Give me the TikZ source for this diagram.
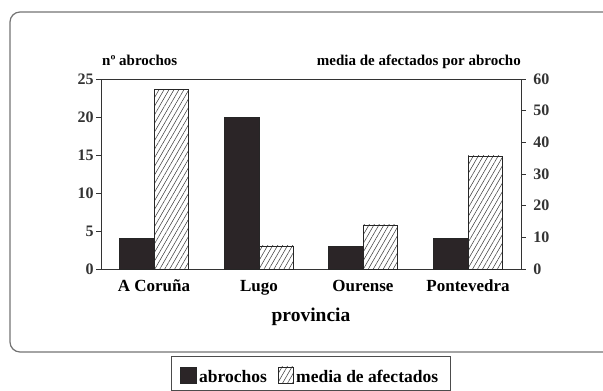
\documentclass[tikz,border=0pt]{standalone}
\usepackage{fontspec}
\setmainfont{Liberation Serif}
\usetikzlibrary{patterns.meta}
\definecolor{barblack}{HTML}{2B2527}
\tikzset{>=latex}
\tikzset{abr/.style={fill=barblack, draw=black!85, line width=.6pt},
  med/.style={draw=black!85, line width=.6pt, pattern color=black!75,
    pattern={Lines[angle=60, distance=4.3pt, line width=.55pt]}},
  txt/.style={font=\bfseries\fontsize{#1}{#1}\selectfont, inner sep=0pt}}
\newcommand{\barPair}[5]{
	\draw[abr](#1-34.5, 122)rectangle(#1, {122+7.6*#2});
	\draw[med](#1, 122)rectangle(#1+34.5, {122+3.1667*#3});
	\node[txt=17, anchor=base](#5) at (#1, 99){#4}
}

\begin{document}
\begin{tikzpicture}[x=1pt, y=1pt]
    \useasboundingbox (0, 0) rectangle (603, 391);
    \draw[black!55, line width=1.2pt, rounded corners=10pt](10, 39)rectangle(625, 379);
    \draw[black!80, line width=.8pt](101, 122)rectangle(521, 312);
    \foreach \v in {0, 5, ..., 25}
        \draw[black!80, line width=.6pt](96, 122+7.6*\v)--(101, 122+7.6*\v)node[txt=16, anchor=east, xshift=-7pt]{\v};
    \foreach \v in {0, 10, ..., 60}
        \draw[black!80, line width=.6pt](521, 122+3.1667*\v)--(526, 122+3.1667*\v)node[txt=16, anchor=west, xshift=7pt]{\v};
    \node[txt=15, anchor=base west](ylab) at (102, 325){nº abrochos};
    \node[txt=15, anchor=base east](yylab) at (521, 325){media de afectados por abrocho};
    \barPair{154}{4}{56.8}{A Coruña}{cor};
    \barPair{259}{20}{7.3}{Lugo}{lug};
    \barPair{363}{3}{13.9}{Ourense}{our};
    \barPair{468}{4}{35.7}{Pontevedra}{pon};
    \node[txt=19.5, anchor=base](xlab) at (311, 69){provincia};
    % leyenda
    \draw[black!70, line width=.8pt](171, 0.5)rectangle(450, 35);
    \draw[abr](180, 8)rectangle(196, 24);
    \node[txt=17.5, anchor=base west](lega) at (199, 8){abrochos};
    \draw[med](278, 8)rectangle(293, 24);
    \node[txt=17.5, anchor=base west](legm) at (296, 8){media de afectados};
\end{tikzpicture}
\end{document}
